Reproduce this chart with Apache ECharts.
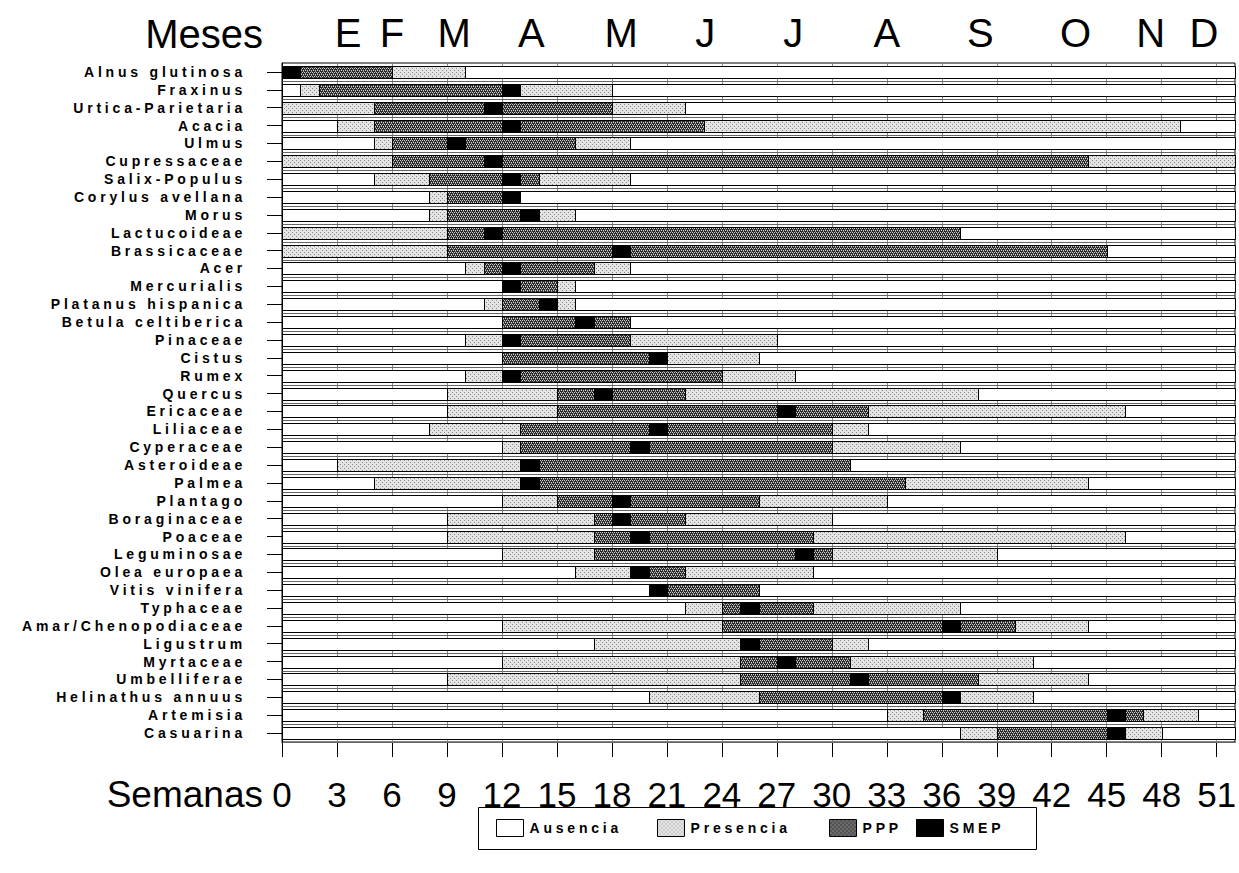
<!DOCTYPE html>
<html>
<head>
<meta charset="utf-8">
<script src="https://cdn.jsdelivr.net/npm/echarts@6/dist/echarts.min.js"></script>
<style>
html,body{margin:0;padding:0;background:#fff;}
#c{width:1239px;height:873px;}
text[style*="LSp"]{letter-spacing:3.8px;}
</style>
</head>
<body>
<div id="c"></div>
<script>
// ---- Data ----
const taxa = ['Alnus glutinosa','Fraxinus','Urtica-Parietaria','Acacia','Ulmus','Cupressaceae','Salix-Populus','Corylus avellana','Morus','Lactucoideae','Brassicaceae','Acer','Mercurialis','Platanus hispanica','Betula celtiberica','Pinaceae','Cistus','Rumex','Quercus','Ericaceae','Liliaceae','Cyperaceae','Asteroideae','Palmea','Plantago','Boraginaceae','Poaceae','Leguminosae','Olea europaea','Vitis vinifera','Typhaceae','Amar/Chenopodiaceae','Ligustrum','Myrtaceae','Umbelliferae','Helinathus annuus','Artemisia','Casuarina'];

// segments: [taxon index, start week, end week]
const ausencia = [[0,0,52],[1,0,52],[2,0,52],[3,0,52],[4,0,52],[5,0,52],[6,0,52],[7,0,52],[8,0,52],[9,0,52],[10,0,52],[11,0,52],[12,0,52],[13,0,52],[14,0,52],[15,0,52],[16,0,52],[17,0,52],[18,0,52],[19,0,52],[20,0,52],[21,0,52],[22,0,52],[23,0,52],[24,0,52],[25,0,52],[26,0,52],[27,0,52],[28,0,52],[29,0,52],[30,0,52],[31,0,52],[32,0,52],[33,0,52],[34,0,52],[35,0,52],[36,0,52],[37,0,52]];

const presencia = [[0,6,10],[1,1,2],[1,13,18],[2,0,5],[2,18,22],[3,3,5],[3,23,49],[4,5,6],[4,16,19],[5,0,6],[5,44,52],[6,5,8],[6,14,19],[7,8,9],[8,8,9],[8,14,16],[9,0,9],[10,0,9],[11,10,11],[11,17,19],[12,15,16],[13,11,12],[13,15,16],[15,10,12],[15,19,27],[16,21,26],[17,10,12],[17,24,28],[18,9,15],[18,22,38],[19,9,15],[19,32,46],[20,8,13],[20,30,32],[21,12,13],[21,30,37],[22,3,13],[23,5,13],[23,34,44],[24,12,15],[24,26,33],[25,9,17],[25,22,30],[26,9,17],[26,29,46],[27,12,17],[27,30,39],[28,16,19],[28,22,29],[30,22,24],[30,29,37],[31,12,24],[31,40,44],[32,17,25],[32,30,32],[33,12,25],[33,31,41],[34,9,25],[34,38,44],[35,20,26],[35,37,41],[36,33,35],[36,47,50],[37,37,39],[37,46,48]];

const ppp = [[0,1,6],[1,2,12],[2,5,11],[2,12,18],[3,5,12],[3,13,23],[4,6,9],[4,10,16],[5,6,11],[5,12,44],[6,8,12],[6,13,14],[7,9,12],[8,9,13],[9,9,11],[9,12,37],[10,9,18],[10,19,45],[11,11,12],[11,13,17],[12,13,15],[13,12,14],[14,12,16],[14,17,19],[15,13,19],[16,12,20],[17,13,24],[18,15,17],[18,18,22],[19,15,27],[19,28,32],[20,13,20],[20,21,30],[21,13,19],[21,20,30],[22,14,31],[23,14,34],[24,15,18],[24,19,26],[25,17,18],[25,19,22],[26,17,19],[26,20,29],[27,17,28],[27,29,30],[28,20,22],[29,21,26],[30,24,25],[30,26,29],[31,24,36],[31,37,40],[32,26,30],[33,25,27],[33,28,31],[34,25,31],[34,32,38],[35,26,36],[36,35,45],[36,46,47],[37,39,45]];

const smep = [[0,0,1],[1,12,13],[2,11,12],[3,12,13],[4,9,10],[5,11,12],[6,12,13],[7,12,13],[8,13,14],[9,11,12],[10,18,19],[11,12,13],[12,12,13],[13,14,15],[14,16,17],[15,12,13],[16,20,21],[17,12,13],[18,17,18],[19,27,28],[20,20,21],[21,19,20],[22,13,14],[23,13,14],[24,18,19],[25,18,19],[26,19,20],[27,28,29],[28,19,20],[29,20,21],[30,25,26],[31,36,37],[32,25,26],[33,27,28],[34,31,32],[35,36,37],[36,45,46],[37,45,46]];

const semanas = [0,3,6,9,12,15,18,21,24,27,30,33,36,39,42,45,48,51];
const mesesLabels = ['E','F','M','A','M','J','J','A','S','O','N','D'];
const mesesPos = [3.6,6.0,9.4,13.6,18.5,23.1,27.9,33.0,38.1,43.3,47.4,50.3];

// ---- Patterns ----
function makeTile(size, draw){
  const c = document.createElement('canvas'); c.width = size; c.height = size;
  const ctx = c.getContext('2d'); draw(ctx); return c;
}
const presTile = makeTile(4, ctx => {
  ctx.fillStyle = '#e4e4e4'; ctx.fillRect(0,0,4,4);
  ctx.fillStyle = '#888888'; ctx.fillRect(0,0,1,1); ctx.fillRect(2,2,1,1);
});
const pppTile = makeTile(4, ctx => {
  ctx.fillStyle = '#2a2a2a'; ctx.fillRect(0,0,4,4);
  ctx.fillStyle = '#cfcfcf';
  ctx.fillRect(0,0,1,1); ctx.fillRect(2,0,1,1); ctx.fillRect(1,2,1,1); ctx.fillRect(3,2,1,1);
  ctx.fillStyle = '#8a8a8a';
  ctx.fillRect(1,1,1,1); ctx.fillRect(3,3,1,1);
});
const colAus = '#ffffff';
const colPres = {image: presTile, repeat: 'repeat', imageWidth: 4, imageHeight: 4};
const colPPP = {image: pppTile, repeat: 'repeat', imageWidth: 4, imageHeight: 4};
const colSMEP = '#000000';

const FONT = "'Liberation Sans', Arial, Helvetica, sans-serif";
const FONT_SP = "'Liberation Sans', Arial, LSp";

function makeRender(fill, withShadow){
  return function(params, api){
    const row = api.value(0);
    const p0 = api.coord([api.value(1), row]);
    const p1 = api.coord([api.value(2), row]);
    const h = Math.round(api.size([0, 1])[1] * 0.67);
    const y = Math.round(p0[1] - h / 2) + 0.5;
    const x0 = Math.round(p0[0]) + 0.5;
    const x1 = Math.round(p1[0]) + 0.5;
    const rect = {type: 'rect', shape: {x: x0, y: y, width: x1 - x0, height: h},
      style: {fill: fill, stroke: '#000', lineWidth: 1}};
    if (!withShadow) return rect;
    return {type: 'group', children: [
      {type: 'line', shape: {x1: x0, y1: y + h + 3, x2: x1, y2: y + h + 3}, style: {stroke: '#666', lineWidth: 1}},
      rect
    ]};
  };
}

function seriesOf(name, data, fill, shadow){
  return {
    name: name, type: 'custom', data: data,
    encode: {x: [1, 2], y: 0},
    itemStyle: {color: fill, borderColor: '#000', borderWidth: 1},
    renderItem: makeRender(fill, shadow),
    animation: false, silent: true
  };
}

function legendAt(name, left){
  return {
    data: [name], left: left, top: 819, padding: 0, selectedMode: false,
    icon: 'rect', itemWidth: 27, itemHeight: 17, itemGap: 0,
    itemStyle: {borderColor: '#000', borderWidth: 1},
    textStyle: {fontFamily: FONT_SP, fontSize: 14, fontWeight: 'bold', color: '#000', padding: [0,0,0,1]}
  };
}

const chart = echarts.init(document.getElementById('c'), null, {renderer: 'svg', width: 1239, height: 873});
chart.setOption({
  backgroundColor: '#fff',
  animation: false,
  grid: {left: 282, right: 4, top: 63, bottom: 131, show: true, borderColor: '#000', borderWidth: 1, containLabel: false, outerBoundsMode: 'none'},
  xAxis: [
    {
      type: 'value', position: 'bottom', min: 0, max: 52,
      axisLine: {show: true, lineStyle: {color: '#000', width: 1}},
      axisTick: {show: true, length: 15, customValues: semanas, lineStyle: {color: '#000', width: 1}},
      axisLabel: {customValues: semanas, margin: 35, fontFamily: FONT, fontSize: 35, color: '#000'},
      splitLine: {show: true, lineStyle: {color: '#888', width: 1}}
    },
    {
      type: 'value', position: 'top', min: 0, max: 52,
      axisLine: {show: false}, axisTick: {show: false}, splitLine: {show: false},
      axisLabel: {
        customValues: mesesPos, margin: 10, fontFamily: FONT, fontSize: 40, color: '#000',
        formatter: function(v){ const i = mesesPos.indexOf(v); return i >= 0 ? mesesLabels[i] : ''; }
      }
    }
  ],
  yAxis: {
    type: 'category', data: taxa, inverse: true,
    axisLine: {show: true, lineStyle: {color: '#000', width: 1}},
    axisTick: {show: true, alignWithLabel: true, length: 15, lineStyle: {color: '#000'}},
    axisLabel: {interval: 0, margin: 36, fontFamily: FONT_SP, fontSize: 14, fontWeight: 'bold', color: '#000'},
    splitLine: {show: false}
  },
  legend: [
    legendAt('Ausencia', 496),
    legendAt('Presencia', 657),
    legendAt('PPP', 829),
    legendAt('SMEP', 916)
  ],
  graphic: [
    {type: 'text', x: 263, y: 34, style: {text: 'Meses', font: "40px " + FONT, fill: '#000', textAlign: 'right', textVerticalAlign: 'middle'}},
    {type: 'text', x: 263, y: 794, style: {text: 'Semanas', font: "37px " + FONT, fill: '#000', textAlign: 'right', textVerticalAlign: 'middle'}},
    {type: 'rect', shape: {x: 478.5, y: 807.5, width: 558, height: 42}, style: {fill: 'none', stroke: '#000', lineWidth: 1}}
  ],
  series: [
    seriesOf('Ausencia', ausencia, colAus, true),
    seriesOf('Presencia', presencia, colPres, false),
    seriesOf('PPP', ppp, colPPP, false),
    seriesOf('SMEP', smep, colSMEP, false)
  ]
});
</script>
</body>
</html>
